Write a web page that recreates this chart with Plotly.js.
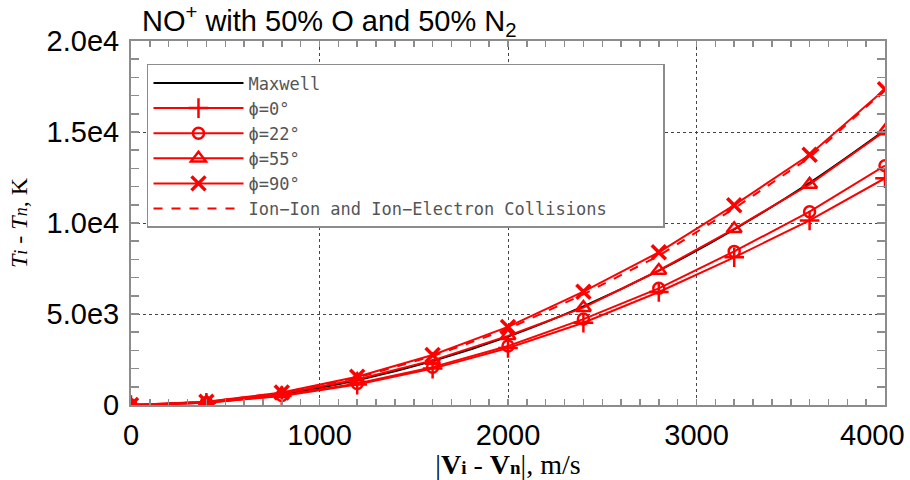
<!DOCTYPE html>
<html>
<head>
<meta charset="utf-8">
<script src="https://cdn.plot.ly/plotly-3.0.1.min.js"></script>
<style>html,body{margin:0;padding:0;background:#fff;}#chart{width:910px;height:480px;}</style>
</head>
<body>
<div id="chart"></div>
<script>
// Relative velocity |Vi - Vn| (m/s)
const velocity = [0, 400, 800, 1200, 1600, 2000, 2400, 2800, 3200, 3600, 4000];
// Ti - Tn (K)
const maxwell    = [0, 150, 600, 1360, 2410, 3760, 5420, 7380, 9650, 12200, 15100];
const phi0       = [0, 125, 500, 1120, 2000, 3130, 4520, 6210, 8115, 10140, 12460];
const phi22      = [0, 130, 520, 1180, 2080, 3240, 4720, 6410, 8440, 10620, 13150];
const phi55      = [0, 160, 620, 1400, 2450, 3800, 5350, 7390, 9680, 12120, 15050];
const phi90      = [0, 175, 690, 1555, 2750, 4290, 6225, 8390, 10980, 13750, 17350];
const collisions = [0, 170, 670, 1500, 2680, 4180, 6080, 8200, 10800, 13600, 17300];

const names = ["Maxwell", "ϕ=0°", "ϕ=22°", "ϕ=55°", "ϕ=90°",
               "Ion−Ion and Ion−Electron Collisions\u00a0\u00a0\u00a0\u00a0\u00a0"];
const xTickVals = [0, 1000, 2000, 3000, 4000];
const xTickText = ["0", "1000", "2000", "3000", "4000"];
const yTickVals = [0, 5000, 10000, 15000, 20000];
const yTickText = ["0", "5.0e3", "1.0e4", "1.5e4", "2.0e4"];

const red = "#ff0000";
const traces = [
  {x: velocity, y: maxwell, name: names[0], mode: "lines",
   line: {color: "#000000", width: 2, shape: "spline"}},
  {x: velocity, y: phi0, name: names[1], mode: "lines+markers",
   line: {color: red, width: 2},
   marker: {symbol: "cross-thin-open", size: 14, line: {color: red, width: 2.5}}},
  {x: velocity, y: phi22, name: names[2], mode: "lines+markers",
   line: {color: red, width: 2},
   marker: {symbol: "circle-open", size: 11, line: {color: red, width: 2.5}}},
  {x: velocity, y: phi55, name: names[3], mode: "lines+markers",
   line: {color: red, width: 2},
   marker: {symbol: "triangle-up-open", size: 13, line: {color: red, width: 2.5}}},
  {x: velocity, y: phi90, name: names[4], mode: "lines+markers",
   line: {color: red, width: 2},
   marker: {symbol: "x-thin-open", size: 14, line: {color: red, width: 3.5}}},
  {x: velocity, y: collisions, name: names[5], mode: "lines",
   line: {color: red, width: 2, dash: "dash"}}
];

const tickFont = {family: "Liberation Sans, Arial, sans-serif", size: 29, color: "#000"};
const axisCommon = {
  showline: true, linecolor: "#8c8c8c", linewidth: 2, mirror: "allticks",
  ticks: "inside", tickcolor: "#8c8c8c", tickwidth: 1.5,
  showgrid: true, gridcolor: "#444444", gridwidth: 1, griddash: "dot",
  zeroline: false,
  tickfont: tickFont
};

const lastX = xTickVals.length - 1;
const layout = {
  width: 910, height: 480,
  paper_bgcolor: "#ffffff", plot_bgcolor: "#ffffff",
  margin: {l: 131, r: 25, t: 41, b: 75},
  title: {
    text: "NO<sup>+</sup> with 50% O and 50% N<sub>2</sub>",
    font: {family: "Liberation Sans, Arial, sans-serif", size: 29, color: "#000"},
    x: 142 / 910, xanchor: "left", xref: "container",
    y: 1 - 21 / 480, yanchor: "middle", yref: "container"
  },
  xaxis: Object.assign({}, axisCommon, {
    range: [0, 4000], tickvals: xTickVals.slice(0, lastX),
    ticktext: xTickText.slice(0, lastX), ticklen: 6,
    ticklabelstandoff: 3,
    minor: {dtick: 100, ticks: "inside", ticklen: 6, tickcolor: "#8c8c8c", tickwidth: 1.5, showgrid: false},
    title: {
      text: "|<b>V<span style=\"font-size:19px\">i</span></b> - <b>V<span style=\"font-size:19px\">n</span></b>|, m/s",
      font: {family: "Liberation Serif, Times New Roman, serif", size: 28, color: "#000"},
      standoff: 4
    }
  }),
  yaxis: Object.assign({}, axisCommon, {
    range: [0, 20000], tickvals: yTickVals, ticktext: yTickText, ticklen: 8,
    ticklabelstandoff: 4,
    minor: {dtick: 1000, ticks: "inside", ticklen: 8, tickcolor: "#8c8c8c", tickwidth: 1.5, showgrid: false},
    title: {
      text: "<i>T<span style=\"font-size:18px\">i</span></i> - <i>T<span style=\"font-size:18px\">n</span></i>, K",
      font: {family: "Liberation Serif, Times New Roman, serif", size: 24, color: "#000"},
      standoff: 12
    }
  }),
  annotations: [{
    // last x tick label, kept inside the page like the reference
    text: xTickText[lastX], x: xTickVals[lastX], xref: "x", xanchor: "right", xshift: 22,
    y: 0, yref: "paper", yanchor: "top", yshift: -12, showarrow: false,
    font: tickFont
  }],
  showlegend: true,
  legend: {
    x: 0.0212, y: 0.937, xanchor: "left", yanchor: "top",
    bgcolor: "#ffffff", bordercolor: "#8c8c8c", borderwidth: 1.5,
    font: {family: "DejaVu Sans Mono, monospace", size: 17, color: "#555555"},
    itemwidth: 90, tracegroupgap: 0
  }
};

Plotly.newPlot("chart", traces, layout, {displayModeBar: false, staticPlot: true});
</script>
</body>
</html>
